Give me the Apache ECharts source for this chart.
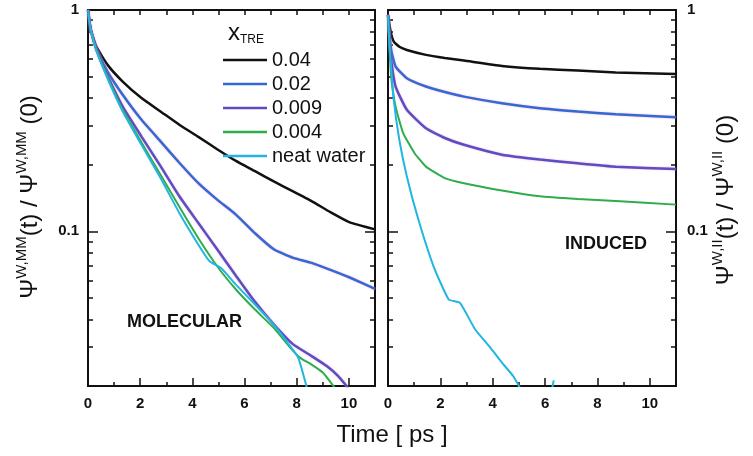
<!DOCTYPE html>
<html>
<head>
<meta charset="utf-8">
<title>Psi W relaxation</title>
<script src="https://cdn.jsdelivr.net/npm/echarts@6/dist/echarts.min.js"></script>
<style>
  html, body { margin: 0; padding: 0; background: #fff; }
  #chart { width: 753px; height: 456px; }
</style>
</head>
<body>
<div id="chart"></div>
<script>
// x_TRE values, legend order
const seriesNames = ['0.04', '0.02', '0.009', '0.004', 'neat water']

const xTicksMajor = [0, 2, 4, 6, 8, 10]
const xTicksMinor = [1, 3, 5, 7, 9]
const xTicksTop = [1, 2, 3, 4, 5, 6, 7, 8, 9, 10]
const yTicksMajor = [0.1, 1]
const yTicksMinor = [0.02, 0.03, 0.04, 0.05, 0.06, 0.07, 0.08, 0.09, 0.2, 0.3, 0.4, 0.5, 0.6, 0.7, 0.8, 0.9]

// MOLECULAR panel : [time (ps), value]
const molecular004 = [[0, 1], [0.1, 0.82], [0.32, 0.683], [0.75, 0.565], [1.33, 0.475], [2.05, 0.4], [2.78, 0.348], [3.5, 0.303], [4.23, 0.267], [4.95, 0.235], [5.67, 0.208], [6.4, 0.187], [7.12, 0.168], [7.84, 0.152], [8.57, 0.137], [9.29, 0.122], [10.01, 0.11], [11, 0.102]]
const molecular002 = [[0, 1], [0.1, 0.82], [0.32, 0.671], [0.75, 0.527], [1.33, 0.414], [2.05, 0.319], [2.78, 0.255], [3.5, 0.204], [4.23, 0.165], [4.95, 0.139], [5.67, 0.119], [6.4, 0.098], [7.12, 0.083], [7.84, 0.076], [8.57, 0.072], [9.29, 0.067], [10.01, 0.062], [11, 0.055]]
const molecular0009 = [[0, 1], [0.1, 0.82], [0.32, 0.665], [0.75, 0.504], [1.33, 0.366], [2.05, 0.268], [2.78, 0.197], [3.5, 0.144], [4.23, 0.109], [4.95, 0.083], [5.67, 0.063], [6.4, 0.048], [7.12, 0.038], [7.84, 0.031], [8.57, 0.0273], [9.15, 0.0246], [9.58, 0.0222], [9.97, 0.0196]]
const molecular0004 = [[0, 1], [0.1, 0.82], [0.32, 0.66], [0.75, 0.497], [1.33, 0.354], [2.05, 0.252], [2.78, 0.18], [3.5, 0.129], [4.23, 0.093], [4.95, 0.0695], [5.67, 0.0546], [6.4, 0.0443], [7.12, 0.0366], [7.7, 0.0303], [8.13, 0.0268], [8.57, 0.025], [9.0, 0.023], [9.46, 0.0196]]
const molecularWater = [[0, 1], [0.1, 0.82], [0.32, 0.656], [0.75, 0.49], [1.33, 0.348], [2.05, 0.246], [2.78, 0.174], [3.5, 0.121], [4.23, 0.087], [4.66, 0.0732], [5.09, 0.0684], [5.67, 0.0574], [6.4, 0.0467], [7.12, 0.0379], [7.7, 0.0308], [8.06, 0.0268], [8.39, 0.0196]]

// INDUCED panel : [time (ps), value]
const induced004 = [[0, 0.95], [0.1, 0.8], [0.22, 0.72], [0.45, 0.68], [0.72, 0.66], [1.45, 0.627], [2.17, 0.607], [2.9, 0.591], [4.35, 0.559], [5.8, 0.542], [7.25, 0.533], [8.7, 0.522], [11, 0.514]]
const induced002 = [[0, 0.95], [0.05, 0.8], [0.12, 0.66], [0.29, 0.555], [0.72, 0.492], [1.45, 0.451], [2.17, 0.426], [2.9, 0.406], [4.35, 0.379], [5.8, 0.36], [7.25, 0.348], [8.7, 0.338], [11, 0.328]]
const induced0009 = [[0, 0.95], [0.05, 0.75], [0.12, 0.595], [0.29, 0.451], [0.72, 0.354], [1.45, 0.292], [2.17, 0.264], [2.9, 0.246], [4.35, 0.222], [5.8, 0.211], [7.25, 0.203], [8.7, 0.196], [11, 0.191]]
const induced0004 = [[0, 0.95], [0.05, 0.7], [0.12, 0.5], [0.29, 0.366], [0.58, 0.278], [1.01, 0.226], [1.45, 0.196], [2.17, 0.174], [2.9, 0.165], [4.35, 0.153], [5.8, 0.144], [7.25, 0.14], [8.7, 0.137], [11, 0.132]]
const inducedWater = [[0, 0.95], [0.07, 0.66], [0.22, 0.393], [0.43, 0.26], [0.72, 0.177], [1.16, 0.113], [1.74, 0.0695], [2.32, 0.0492], [2.75, 0.0475], [3.33, 0.036], [3.91, 0.0298], [4.35, 0.0255], [4.78, 0.0222], [5.05, 0.0195], [5.3, null], [6.27, 0.0195], [6.33, 0.0212]]

const molecularData = [molecular004, molecular002, molecular0009, molecular0004, molecularWater]
const inducedData = [induced004, induced002, induced0009, induced0004, inducedWater]

const lineColors = ['#111111', '#3569d2', '#5b4ec2', '#2fad4a', '#22b5e2']
const lineWidths = [2.5, 2.5, 2.5, 2, 2]
const lineHalo = [null, 'rgba(235, 120, 200, 0.55)', 'rgba(235, 120, 200, 0.55)', null, null]
const fontFamily = 'Arial, "Liberation Sans", Helvetica, sans-serif'
const ink = '#111'

function xAxisSet (gridIndex) {
  const common = {
    type: 'value',
    gridIndex: gridIndex,
    min: 0,
    max: 11,
    axisLine: { show: true, onZero: false, lineStyle: { color: ink, width: 2 } },
    splitLine: { show: false }
  }
  return [
    Object.assign({}, common, {
      position: 'bottom',
      axisTick: { inside: true, length: 8, customValues: xTicksMajor, lineStyle: { color: ink, width: 1.5 } },
      axisLabel: { customValues: xTicksMajor, margin: 10, fontSize: 15, fontWeight: 'bold', fontFamily: fontFamily, color: ink }
    }),
    Object.assign({}, common, {
      position: 'bottom',
      axisTick: { inside: true, length: 4, customValues: xTicksMinor, lineStyle: { color: ink, width: 1.5 } },
      axisLabel: { show: false }
    }),
    Object.assign({}, common, {
      position: 'top',
      axisTick: { inside: true, length: 5, customValues: xTicksTop, lineStyle: { color: ink, width: 1.5 } },
      axisLabel: { show: false }
    })
  ]
}

function yAxisPair (gridIndex, position, withLabels) {
  const common = {
    type: 'log',
    logBase: 10,
    gridIndex: gridIndex,
    position: position,
    min: 0.02,
    max: 1,
    axisLine: { show: true, onZero: false, lineStyle: { color: ink, width: 2 } },
    splitLine: { show: false }
  }
  return [
    Object.assign({}, common, {
      axisTick: { inside: true, length: 10, customValues: yTicksMajor, lineStyle: { color: ink, width: 1.5 } },
      axisLabel: withLabels ? {
        customValues: yTicksMajor,
        margin: position === 'left' ? 9 : 11,
        fontSize: 15,
        fontWeight: 'bold',
        fontFamily: fontFamily,
        color: ink,
        formatter: function (v) { return v >= 1 ? '1' : '0.1' }
      } : { show: false }
    }),
    Object.assign({}, common, {
      axisTick: { inside: true, length: 5, customValues: yTicksMinor, lineStyle: { color: ink, width: 1.5 } },
      axisLabel: { show: false }
    })
  ]
}

function buildSeries (dataList, xAxisIndex, yAxisIndex) {
  return dataList.map(function (data, i) {
    const lineStyle = { color: lineColors[i], width: lineWidths[i] }
    if (lineHalo[i]) {
      lineStyle.shadowColor = lineHalo[i]
      lineStyle.shadowBlur = 2
    }
    return {
      name: seriesNames[i],
      type: 'line',
      xAxisIndex: xAxisIndex,
      yAxisIndex: yAxisIndex,
      data: data,
      symbol: 'none',
      smooth: 0.15,
      clip: true,
      lineStyle: lineStyle,
      itemStyle: { color: lineColors[i] }
    }
  })
}

const chart = echarts.init(document.getElementById('chart'), null, { renderer: 'canvas' })

chart.setOption({
  animation: false,
  backgroundColor: '#fff',
  grid: [
    { left: 88, top: 10, width: 287, height: 376, outerBoundsMode: 'none' },
    { left: 388, top: 10, width: 288, height: 376, outerBoundsMode: 'none' }
  ],
  xAxis: xAxisSet(0).concat(xAxisSet(1)),
  yAxis: yAxisPair(0, 'left', true)
    .concat(yAxisPair(0, 'right', false))
    .concat(yAxisPair(1, 'left', false))
    .concat(yAxisPair(1, 'right', true)),
  legend: {
    data: seriesNames,
    orient: 'vertical',
    left: 223,
    top: 50,
    padding: 0,
    icon: 'rect',
    itemWidth: 44,
    itemHeight: 2.5,
    itemGap: 4,
    selectedMode: false,
    textStyle: { fontSize: 20, lineHeight: 20, fontFamily: fontFamily, color: ink }
  },
  graphic: [
    {
      type: 'text',
      x: 30,
      y: 197,
      rotation: Math.PI / 2,
      style: {
        text: '{m|Ψ}{s|W,MM}{m|(t) / Ψ}{s|W,MM}{m| (0)}',
        align: 'center',
        verticalAlign: 'middle',
        rich: {
          m: { fontSize: 24, lineHeight: 32, fontFamily: fontFamily, fill: ink },
          s: { fontSize: 15, verticalAlign: 'top', fontFamily: fontFamily, fill: ink }
        }
      }
    },
    {
      type: 'text',
      x: 726,
      y: 200,
      rotation: Math.PI / 2,
      style: {
        text: '{m|Ψ}{s|W,II}{m|(t) / Ψ}{s|W,II}{m| (0)}',
        align: 'center',
        verticalAlign: 'middle',
        rich: {
          m: { fontSize: 24, lineHeight: 32, fontFamily: fontFamily, fill: ink },
          s: { fontSize: 15, verticalAlign: 'top', fontFamily: fontFamily, fill: ink }
        }
      }
    },
    {
      type: 'text',
      x: 228,
      y: 33,
      style: {
        text: '{m|x}{s|TRE}',
        align: 'left',
        verticalAlign: 'middle',
        rich: {
          m: { fontSize: 24, lineHeight: 26, fontFamily: fontFamily, fill: ink },
          s: { fontSize: 12, verticalAlign: 'bottom', fontFamily: fontFamily, fill: ink }
        }
      }
    },
    {
      type: 'text',
      x: 392,
      y: 435,
      style: { text: 'Time [ ps ]', align: 'center', verticalAlign: 'middle', fontSize: 24, fontFamily: fontFamily, fill: ink }
    },
    {
      type: 'text',
      x: 127,
      y: 322,
      style: { text: 'MOLECULAR', align: 'left', verticalAlign: 'middle', fontSize: 18, fontWeight: 'bold', fontFamily: fontFamily, fill: ink }
    },
    {
      type: 'text',
      x: 565,
      y: 244,
      style: { text: 'INDUCED', align: 'left', verticalAlign: 'middle', fontSize: 18, fontWeight: 'bold', fontFamily: fontFamily, fill: ink }
    }
  ],
  series: buildSeries(molecularData, 0, 0).concat(buildSeries(inducedData, 3, 4))
})

window.addEventListener('resize', function () {
  chart.resize()
})
</script>
</body>
</html>
